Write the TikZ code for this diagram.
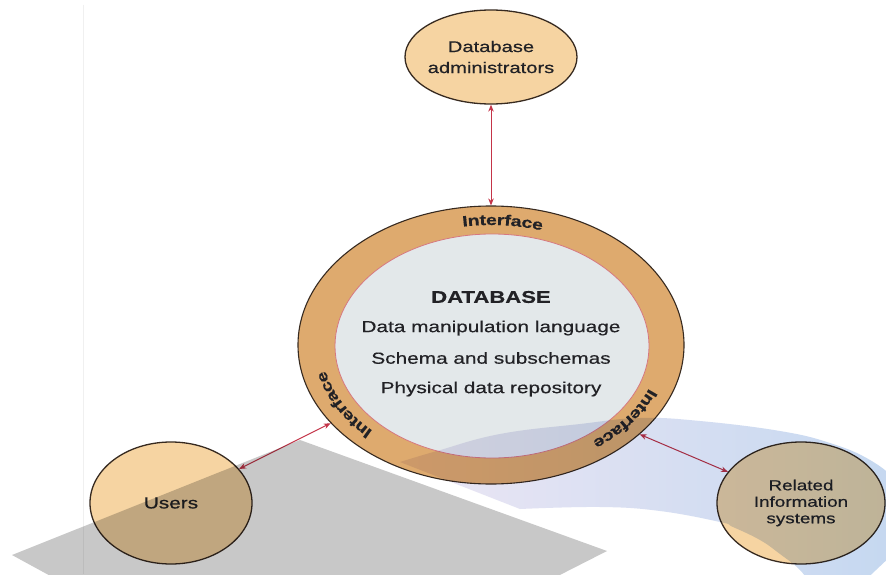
\documentclass[tikz,border=0pt]{standalone}
\usepackage{fontspec}
\setmainfont{Liberation Sans}[FakeStretch=1.3, FakeBold=0.5]
\usetikzlibrary{arrows.meta,decorations.text,shapes.geometric}

\definecolor{ringtan}{RGB}{222,170,110}
\definecolor{peach}{RGB}{246,212,162}
\definecolor{corefill}{RGB}{227,232,234}
\definecolor{corerim}{RGB}{214,120,128}
\definecolor{rimdark}{RGB}{55,42,32}
\definecolor{linkred}{RGB}{196,52,72}
\definecolor{inkgray}{RGB}{34,34,38}
\definecolor{veilgray}{RGB}{200,200,200}
\definecolor{bandlilac}{RGB}{236,230,244}
\definecolor{bandblue}{RGB}{194,215,240}

\begin{document}
\begin{tikzpicture}[x=1pt,y=1pt,
  actor/.style={ellipse, draw=rimdark, line width=1.3pt, fill=peach, inner sep=0pt},
  actortext/.style={text=inkgray, align=center, font=\fontsize{15}{17}\selectfont},
  bodytext/.style={text=inkgray, font=\fontsize{16}{16}\selectfont},
  link/.style={draw=linkred, line width=1pt, {Stealth[length=7pt,width=5.5pt]}-{Stealth[length=7pt,width=5.5pt]}},
  ringlabel/.style={decorate, decoration={text along path, text align=center, raise=-5.5pt,
      text color=inkgray, text={|\fontsize{15}{15}\selectfont\bfseries|Interface}}},
  pagerule/.style={draw=black!6, line width=0.8pt}]
\useasboundingbox (0,0) rectangle (886,574);
\fill[white] (0,0) rectangle (886,574);
\clip (0,0) rectangle (886,574);

% faint page edge
\draw[pagerule] (83,569) -- (83,0);

% the database: interface ring around the core
\node[ellipse, draw=rimdark, line width=1.1pt, fill=ringtan, inner sep=0pt,
      minimum width=386pt, minimum height=278pt] (ring) at (491,229) {};
\node[ellipse, draw=corerim, line width=0.8pt, fill=corefill, inner sep=0pt,
      minimum width=314pt, minimum height=224pt] (core) at (492,228) {};

% interface labels running along the ring
\path[ringlabel] ([shift={(491,229)}]106:175pt and 125.5pt)
  arc[start angle=106, end angle=66, x radius=175pt, y radius=125.5pt];
\path[ringlabel] ([shift={(491,229)}]229:175pt and 125.5pt)
  arc[start angle=229, end angle=189, x radius=175pt, y radius=125.5pt];
\path[ringlabel] ([shift={(491,229)}]-16:175pt and 125.5pt)
  arc[start angle=-16, end angle=-58, x radius=175pt, y radius=125.5pt];

% core contents
\node[bodytext, font=\fontsize{17}{17}\selectfont\bfseries] (title) at (491,277) {DATABASE};
\node[bodytext] (dml) at (491,246) {Data manipulation language};
\node[bodytext] (schema) at (491,216) {Schema and subschemas};
\node[bodytext] (store) at (491,185) {Physical data repository};

% surrounding parties
\node[actor, minimum width=172pt, minimum height=94pt] (admin) at (491,517) {};
\node[actortext, font=\fontsize{15.5}{21}\selectfont] at (admin) {Database\\administrators};
\node[actor, minimum width=162pt, minimum height=122pt] (users) at (171,71) {};
\node[actortext, font=\fontsize{16}{17}\selectfont] at (users) {Users};
\node[actor, minimum width=168pt, minimum height=122pt] (related) at (801,71) {};
\node[actortext, font=\fontsize{14.5}{16.5}\selectfont] at (related) {Related\\Information\\systems};

% two-way links
\draw[link] (admin) -- (ring);
\draw[link] (users) -- (ring.206);
\draw[link] (related) -- (ring.-31);

% translucent overlays
\begin{scope}[blend mode=multiply]
  \shade[left color=bandlilac, right color=bandblue]
    plot[smooth, tension=0.7] coordinates {(400,112) (437,123) (500,140) (580,150) (640,156)
      (700,153) (780,143) (830,131) (870,114) (900,90) (930,55)}
    -- plot[smooth, tension=0.7] coordinates {(840,-30) (815,-15) (800,4) (780,20) (760,34)
      (733,47) (720,52) (660,63) (600,67) (520,65)}
    -- cycle;
  \fill[veilgray] (12,19) -- (300,134) -- (607,23) -- (552,-5) -- (56,-5) -- cycle;
\end{scope}
\end{tikzpicture}
\end{document}
